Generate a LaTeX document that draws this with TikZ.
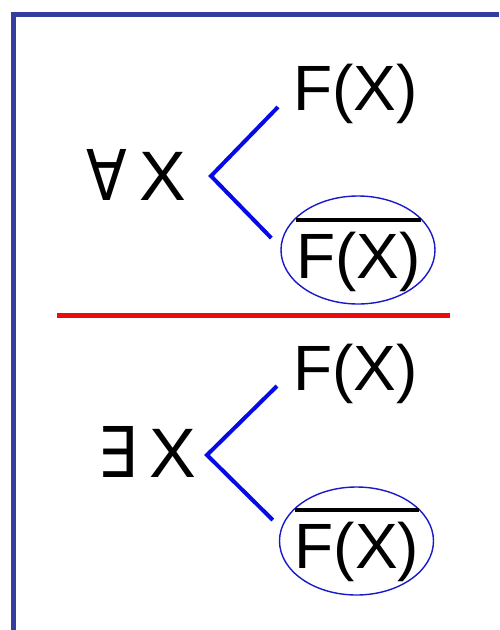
\documentclass[tikz,border=0pt]{standalone}
\usepackage{fontspec}
\setmainfont{Liberation Sans}
\newfontfamily\quantfont{DejaVu Sans}
\usepackage{graphicx}
\usetikzlibrary{shapes.geometric}
\definecolor{framecol}{RGB}{52,62,158}
\definecolor{branchblue}{RGB}{5,10,230}
\definecolor{ringblue}{RGB}{25,25,200}
\definecolor{divred}{RGB}{235,10,15}
\newcommand{\negfx}{\vbox{\hrule height 3.5pt\kern 10pt\hbox{F(X)}}}
\newcommand{\forallsym}{\scalebox{0.85}[1]{\quantfont ∀}}
\newcommand{\existsym}{\scalebox{0.9}[1]{\quantfont ∃}}

\begin{document}
\begin{tikzpicture}[
    x=1pt, y=-1pt,
    term/.style={inner sep=0pt, font=\fontsize{64}{70}\selectfont},
    quant/.style={inner sep=0pt, font=\fontsize{70}{76}\selectfont},
    ring/.style={ellipse, draw=ringblue, line width=1.4pt, minimum width=154pt, minimum height=108pt, inner sep=0pt},
    branch/.style={draw=branchblue, line width=4pt},
    frame/.style={draw=framecol, line width=5pt},
    divider/.style={draw=divred, line width=5pt}
]
    \useasboundingbox (0,0) rectangle (499,630);
    \draw [frame] (499,14) -- (13.5,14) -- (13.5,630);

    \node (all) [quant, anchor=base east] at (186,200) {\forallsym\hspace{12pt}X};
    \node (f1) [term, anchor=base west] at (293,110) {F(X)};
    \node (ring1) [ring] at (358,250) {};
    \node (n1) [term, anchor=base] at (358.5,278) {\negfx};
    \coordinate (v1) at (211,176);
    \draw [branch] ([shift={(-15,-3)}]f1.base west) -- (v1) -- ([shift={(-9,-12)}]ring1.west);

    \draw [divider] (57,315) -- (450,315);

    \node (ex) [quant, anchor=base east] at (196,477) {\existsym\hspace{12pt}X};
    \node (f2) [term, anchor=base west] at (293,390) {F(X)};
    \node (ring2) [ring] at (356.5,541) {};
    \node (n2) [term, anchor=base] at (357,568) {\negfx};
    \coordinate (v2) at (207,455);
    \draw [branch] ([shift={(-16,-4)}]f2.base west) -- (v2) -- ([shift={(-6,-21)}]ring2.west);
\end{tikzpicture}
\end{document}
